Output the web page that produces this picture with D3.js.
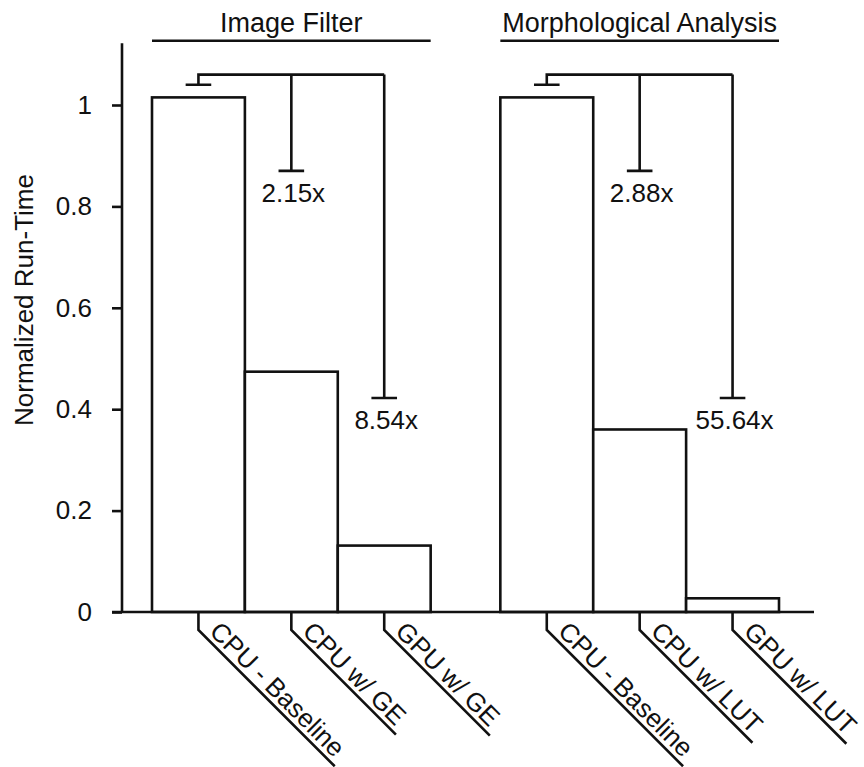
<!DOCTYPE html>
<html>
<head>
<meta charset="utf-8">
<script src="https://cdn.jsdelivr.net/npm/d3@7/dist/d3.min.js"></script>
<style>
  body { margin: 0; background: #fff; }
  text { font-family: "Liberation Sans", Arial, sans-serif; fill: #111; }
</style>
</head>
<body>
<svg id="chart" width="864" height="767"></svg>
<script>
// group names and the configurations compared in each group
const groups = ["Image Filter", "Morphological Analysis"];
const imageFilterConfigs = ["CPU - Baseline", "CPU w/ GE", "GPU w/ GE"];
const morphConfigs = ["CPU - Baseline", "CPU w/ LUT", "GPU w/ LUT"];

// normalized run-time values
const imageFilterValues = [1.015, 0.474, 0.131];
const morphValues = [1.015, 0.360, 0.027];

// speedup annotations (vs. baseline) and the levels of their bracket caps
const imageFilterSpeedups = ["2.15x", "8.54x"];
const morphSpeedups = ["2.88x", "55.64x"];
const speedupCapLevels = [0.87, 0.422];
const bracketTop = 1.06;
const baselineCap = 1.04;

const yTicks = [0, 0.2, 0.4, 0.6, 0.8, 1];
const yMax = 1.122;

const groupData = groups.map((g, i) => ({
    name: g,
    configs: i === 0 ? imageFilterConfigs : morphConfigs,
    values: i === 0 ? imageFilterValues : morphValues,
    speedups: i === 0 ? imageFilterSpeedups : morphSpeedups
}));

const svg = d3.select("#chart");
const ink = "#111";
const lw = 2.6;

const axisX = 122;
const y = d3.scaleLinear().domain([0, 1]).range([612, 105]);

const xGroup = d3.scaleBand().domain(groups).range([152, 779]).paddingInner(0.2).paddingOuter(0);
const xInner = d3.scaleBand().domain([0, 1, 2]).range([0, xGroup.bandwidth()]).padding(0);

// y axis
const yAxis = d3.axisLeft(y)
    .tickValues(yTicks)
    .tickFormat(d3.format("~g"))
    .tickSize(10)
    .tickPadding(20);

const gy = svg.append("g").attr("transform", `translate(${axisX},0)`).call(yAxis);
gy.select(".domain").remove();
gy.selectAll(".tick line").attr("stroke", ink).attr("stroke-width", lw);
gy.selectAll(".tick text").attr("font-size", 26).attr("fill", ink)
    .style("font-family", '"Liberation Sans", Arial, sans-serif');

svg.append("line")
    .attr("x1", axisX).attr("x2", axisX)
    .attr("y1", y(yMax)).attr("y2", y(0))
    .attr("stroke", ink).attr("stroke-width", lw);

svg.append("text")
    .attr("transform", `translate(33,300) rotate(-90)`)
    .attr("text-anchor", "middle")
    .attr("font-size", 26)
    .text("Normalized Run-Time");

// bars and annotations per group
const g = svg.selectAll("g.group").data(groupData).join("g")
    .attr("class", "group")
    .attr("transform", d => `translate(${xGroup(d.name)},0)`);

g.selectAll("rect").data(d => d.values).join("rect")
    .attr("x", (d, i) => xInner(i))
    .attr("width", xInner.bandwidth())
    .attr("y", d => y(d))
    .attr("height", d => y(0) - y(d))
    .attr("fill", "#fff")
    .attr("stroke", ink)
    .attr("stroke-width", lw);

// group titles with underline
g.append("text")
    .attr("x", xGroup.bandwidth() / 2)
    .attr("y", 32)
    .attr("text-anchor", "middle")
    .attr("font-size", 27)
    .text(d => d.name);

g.append("line")
    .attr("x1", 0).attr("x2", xGroup.bandwidth())
    .attr("y1", 40.7).attr("y2", 40.7)
    .attr("stroke", ink).attr("stroke-width", lw);

// speedup brackets
const cx = i => xInner(i) + xInner.bandwidth() / 2;
const capW = 12.8;

g.each(function (d) {
    const sel = d3.select(this);
    const path = d3.path();
    // baseline cap over the first bar
    path.moveTo(cx(0) - capW, y(baselineCap));
    path.lineTo(cx(0) + capW, y(baselineCap));
    path.moveTo(cx(0), y(baselineCap));
    path.lineTo(cx(0), y(bracketTop));
    path.lineTo(cx(2), y(bracketTop));
    d.speedups.forEach((s, k) => {
        const xi = cx(k + 1);
        path.moveTo(xi, y(bracketTop));
        path.lineTo(xi, y(speedupCapLevels[k]));
        path.moveTo(xi - capW, y(speedupCapLevels[k]));
        path.lineTo(xi + capW, y(speedupCapLevels[k]));
    });
    sel.append("path")
        .attr("d", path.toString())
        .attr("fill", "none")
        .attr("stroke", ink)
        .attr("stroke-width", lw);

    sel.selectAll("text.speedup").data(d.speedups).join("text")
        .attr("class", "speedup")
        .attr("x", (s, k) => cx(k + 1) + 2)
        .attr("y", (s, k) => y(speedupCapLevels[k]) + 31)
        .attr("text-anchor", "middle")
        .attr("font-size", 26)
        .text(s => s);
});

// x axis baseline
svg.append("line")
    .attr("x1", axisX - 10).attr("x2", 814)
    .attr("y1", y(0)).attr("y2", y(0))
    .attr("stroke", ink).attr("stroke-width", lw);

// slanted category labels with leader lines
const tickDrop = 630;
g.each(function (d) {
    const sel = d3.select(this);
    d.configs.forEach((c, i) => {
        const lab = sel.append("g")
            .attr("transform", `translate(${cx(i)},${tickDrop}) rotate(45)`);
        const t = lab.append("text")
            .attr("x", 9)
            .attr("y", -5)
            .attr("font-size", 26)
            .text(c);
        const len = t.node().getComputedTextLength() + 15;
        sel.append("path")
            .attr("d", `M${cx(i)},${y(0)}V${tickDrop}l${len / Math.SQRT2},${len / Math.SQRT2}`)
            .attr("fill", "none")
            .attr("stroke", ink)
            .attr("stroke-width", lw);
    });
});
</script>
</body>
</html>
